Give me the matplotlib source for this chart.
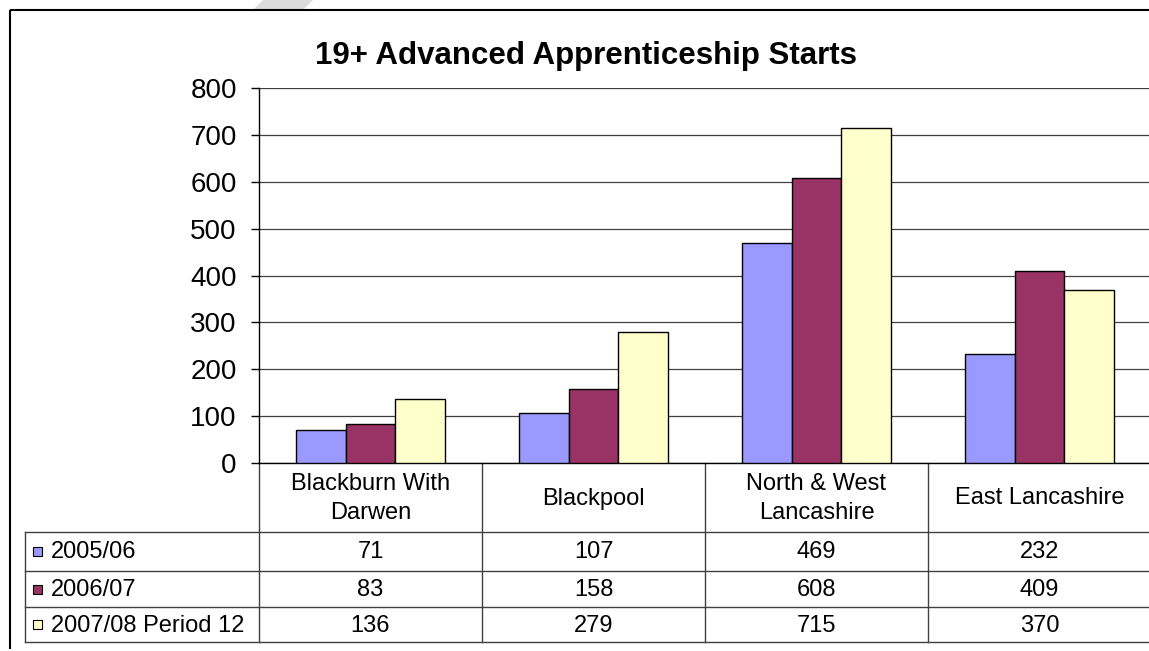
import matplotlib
matplotlib.use("Agg")
import matplotlib.pyplot as plt
from matplotlib.patches import Rectangle, Polygon
import numpy as np

plt.rcParams['font.family'] = ['Liberation Sans', 'DejaVu Sans']

title = "19+ Advanced Apprenticeship Starts"
categories = ["Blackburn With\nDarwen", "Blackpool", "North & West\nLancashire", "East Lancashire"]
series_names = ["2005/06", "2006/07", "2007/08 Period 12"]
s2005 = [71, 107, 469, 232]
s2006 = [83, 158, 608, 409]
s2007 = [136, 279, 715, 370]
series = [s2005, s2006, s2007]
colors = ["#9999FF", "#993366", "#FFFFCC"]
yticks = [0, 100, 200, 300, 400, 500, 600, 700, 800]

W, H = 1149, 651
fig = plt.figure(figsize=(W / 100, H / 100), dpi=100)

# pixel layout
PL, PR, PT, PB = 259, 1151, 88, 463
TAB_L = 25
row_lines = [532, 571, 607, 642]

# overlay for frame / table in pixel coordinates
ov = fig.add_axes([0, 0, 1, 1], zorder=0)
ov.set_xlim(0, W)
ov.set_ylim(H, 0)
ov.axis('off')

# watermark fragment
ov.add_patch(Polygon([(263, 0), (313, 0), (303, 10), (253, 10)], closed=True,
                     facecolor='#dcdcdc', edgecolor='none'))
# outer frame
ov.plot([9.5, 9.5], [10, 649], color='black', lw=1.5, solid_capstyle='butt')
ov.plot([9.5, W], [10, 10], color='black', lw=1.5, solid_capstyle='butt')

# main chart
ax = fig.add_axes([PL / W, 1 - PB / H, (PR - PL) / W, (PB - PT) / H], zorder=2)
ax.patch.set_alpha(0)
n = len(categories)
bw = 1 / 4.5
x = np.arange(n) + 0.5
for j, (vals, c) in enumerate(zip(series, colors)):
    ax.bar(x + (j - 1) * bw, vals, width=bw, color=c, edgecolor='black', linewidth=1.0, zorder=3)
ax.set_xlim(0, n)
ax.set_ylim(0, 800)
ax.set_yticks(yticks)
ax.set_yticklabels([str(t) for t in yticks], fontsize=20)
ax.tick_params(axis='y', direction='out', length=6, width=1, pad=10, colors='black')
ax.set_xticks([])
ax.yaxis.grid(True, color='#404040', lw=0.9, zorder=1)
ax.set_axisbelow(True)
for s in ['top', 'right']:
    ax.spines[s].set_visible(False)
ax.spines['left'].set_linewidth(1)
ax.spines['bottom'].set_linewidth(1)

# title
ov.text(586, 64, title, ha='center', va='baseline', fontsize=22.5, fontweight='bold')

# data table
lc = '#404040'
colw = (PR - PL) / n
for i in range(n + 1):
    xx = PL + i * colw
    ov.plot([xx, xx], [PB, row_lines[-1]], color=lc, lw=1)
for yy in row_lines:
    ov.plot([TAB_L, W], [yy, yy], color=lc, lw=1)
ov.plot([TAB_L, TAB_L], [row_lines[0], row_lines[-1]], color=lc, lw=1)

for i, cat in enumerate(categories):
    ov.text(PL + (i + 0.5) * colw, (PB + row_lines[0]) / 2 + 1, cat, ha='center', va='center',
            fontsize=17, linespacing=1.4)

for r, (name, vals, c) in enumerate(zip(series_names, series, colors)):
    yc = (row_lines[r] + row_lines[r + 1]) / 2
    ov.add_patch(Rectangle((32.5, yc - 4.5), 9, 9, facecolor=c, edgecolor='black', lw=0.8))
    ov.text(51, yc + 1, name, ha='left', va='center', fontsize=17)
    for i, v in enumerate(vals):
        ov.text(PL + (i + 0.5) * colw, yc + 1, str(v), ha='center', va='center', fontsize=17)

fig.savefig("out.png", dpi=100)
